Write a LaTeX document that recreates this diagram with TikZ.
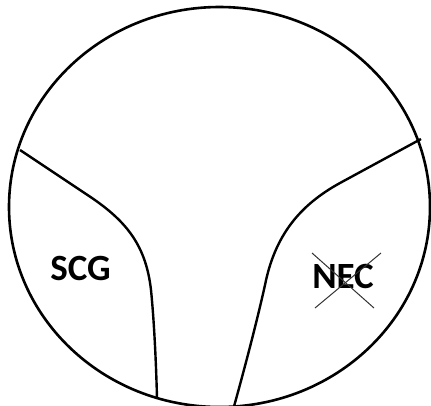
\documentclass[tikz,border=0pt]{standalone}
\usepackage{fontspec}
\setmainfont{Carlito}
\begin{document}
\begin{tikzpicture}[x=1pt,y=-1pt,
  outline/.style={line width=2.6pt},
  border/.style={line width=2.4pt},
  label/.style={font=\bfseries\fontsize{37}{42}\selectfont, inner sep=0pt, anchor=base},
  crossline/.style={line width=1pt, black!80}]
\useasboundingbox (0,0) rectangle (431,405);
\clip (0,0) rectangle (431,405);
\coordinate (c) at (219.5,207);
\draw[outline] (c) ellipse [x radius=210.5, y radius=200];
\coordinate (l0) at (20,150);
\coordinate (l1) at (157,398);
\coordinate (r0) at (421,139);
\coordinate (r1) at (233,410);
\draw[border] (l0) -- (92,198) .. controls (127,222) and (146,246) .. (151,290) .. controls (154,320) and (156,360) .. (l1);
\draw[border] (r0) -- (340,183) .. controls (300,205) and (275,235) .. (265,285) .. controls (255,330) and (240,385) .. (r1);
\node[label] (scg) at (80.5,280) {SCG};
\node[label] (nec) at (343,288) {NEC};
\coordinate (x1) at (312,253);
\coordinate (x2) at (374,308);
\coordinate (x3) at (381,253);
\coordinate (x4) at (315,308);
\draw[crossline] (x1) -- (x2);
\draw[crossline] (x3) -- (x4);
\end{tikzpicture}
\end{document}
